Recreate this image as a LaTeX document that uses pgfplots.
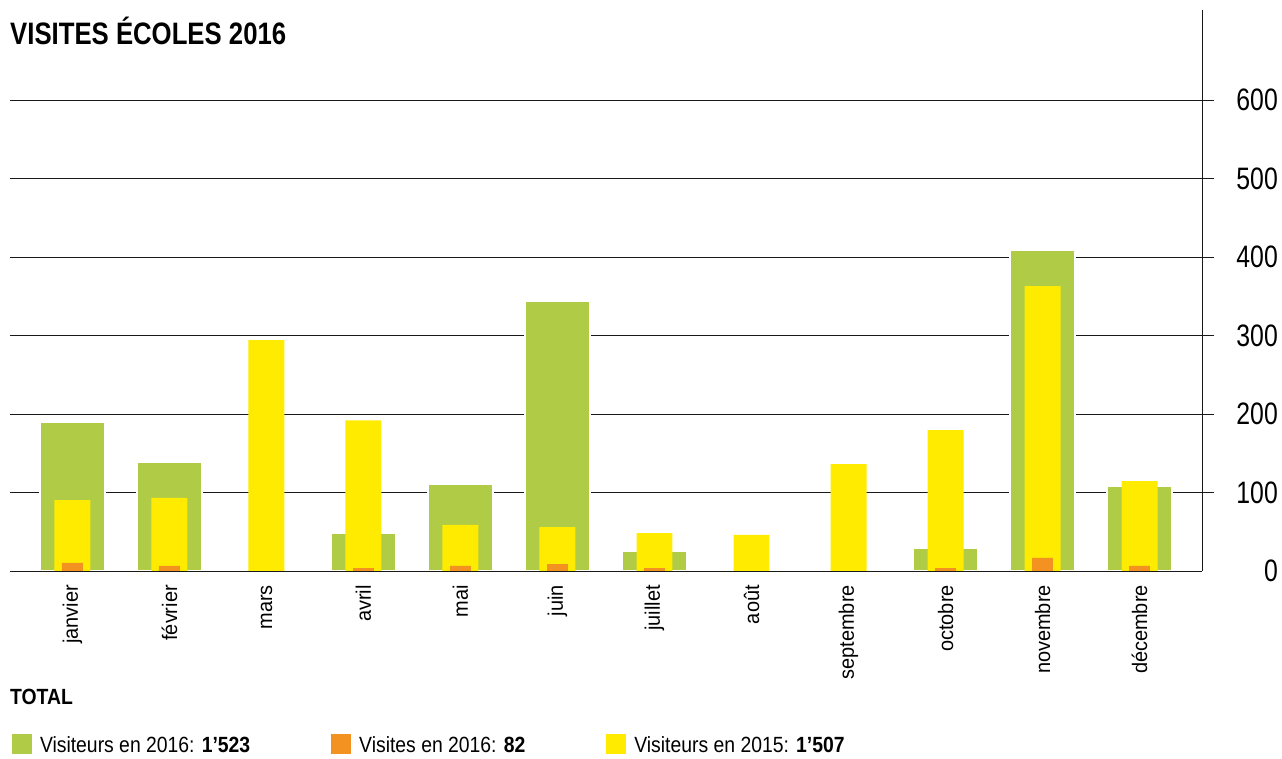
\documentclass[border=0pt]{standalone}
\usepackage{fontspec}
\setmainfont{Liberation Sans}[FakeStretch=0.8]
\newfontfamily\monthfont{Liberation Sans}[FakeStretch=0.95]
\newfontfamily\legfont{Liberation Sans}[FakeStretch=0.88]
\newfontfamily\titlefont{Liberation Sans}[FakeStretch=0.83]
\usepackage{pgfplots}
\pgfplotsset{compat=1.18}
\definecolor{cgreen}{HTML}{B0CC46}
\definecolor{cyellow}{HTML}{FFEB00}
\definecolor{corange}{HTML}{F39221}
\begin{document}
\begin{tikzpicture}[x=1pt,y=1pt]
\path[use as bounding box] (-10,-187) rectangle (1272,571);
\begin{axis}[
  scale only axis,
  width=1204pt, height=561pt,
  xmin=-0.644, xmax=11.768,
  ymin=0, ymax=714.6,
  axis line style={draw=none},
  major tick length=0pt,
  xtick={0,...,11},
  xticklabels={janvier,février,mars,avril,mai,juin,juillet,août,septembre,octobre,novembre,décembre},
  xticklabel style={rotate=90, anchor=east, inner sep=0pt, font=\monthfont\fontsize{21}{21}\selectfont},
  xticklabel shift=14pt,
  ytick={100,200,...,600},
  extra y ticks={0},
  extra y tick style={grid=none},
  yticklabel pos=right,
  yticklabel style={anchor=east, inner sep=0pt, xshift=64pt, font=\fontsize{31}{31}\selectfont},
  /pgf/number format/assume math mode=true,
  ymajorgrids,
  major grid style={black!90, line width=0.9pt},
  legend columns=3,
  legend style={draw=none, fill=none, inner sep=0pt, outer sep=0pt,
    at={(axis description cs:0,0)}, anchor=north west, xshift=2pt, yshift=-163pt,
    font=\legfont\fontsize{22}{22}\selectfont,
    nodes={inner sep=0pt, anchor=base west},
    /tikz/every odd column/.append style={column sep=8pt},
    /tikz/every even column/.append style={column sep=81pt},
    /tikz/column 4/.append style={column sep=86pt}},
  legend image code/.code={\fill[#1] (0pt,-2pt) rectangle (20pt,18pt);},
]
\addplot[ybar, bar width=0.67, bar shift=0pt, fill=cgreen, draw=white, line width=2pt, forget plot]
  coordinates {(0,190) (1,138.5) (3,48.4) (4,110.4) (5,344) (6,25.5) (9,29.7) (10,409) (11,108.3)};
\addplot[ybar, bar width=0.371, bar shift=0pt, fill=cyellow, draw=none, forget plot]
  coordinates {(0,90.4) (1,93) (2,294) (3,192) (4,58.6) (5,56) (6,48.4) (7,45.9) (8,136.3) (9,179.6) (10,363) (11,114.6)};
\addplot[ybar, bar width=0.216, bar shift=0pt, fill=corange, draw=none, forget plot]
  coordinates {(0,10.2) (1,6.4) (3,3.8) (4,6.4) (5,8.9) (6,3.8) (9,3.8) (10,16.6) (11,6.4)};
\draw[black!90, line width=0.9pt] (axis cs:-0.644,0) -- (axis cs:11.644,0);
\draw[black!90, line width=0.9pt] (axis cs:11.644,0) -- (axis cs:11.644,714.6);
\addlegendimage{fill=cgreen, draw=none}
\addlegendentry{Visiteurs en 2016: \textbf{1’523}}
\addlegendimage{fill=corange, draw=none}
\addlegendentry{Visites en 2016: \textbf{82}}
\addlegendimage{fill=cyellow, draw=none}
\addlegendentry{Visiteurs en 2015: \textbf{1’507}}
\end{axis}
\node[anchor=base west, inner sep=0pt, font=\titlefont\bfseries\fontsize{31}{31}\selectfont] at (0,526) {VISITES ÉCOLES 2016};
\node[anchor=base west, inner sep=0pt, font=\legfont\bfseries\fontsize{22}{22}\selectfont] at (0,-133) {TOTAL};
\end{tikzpicture}
\end{document}
